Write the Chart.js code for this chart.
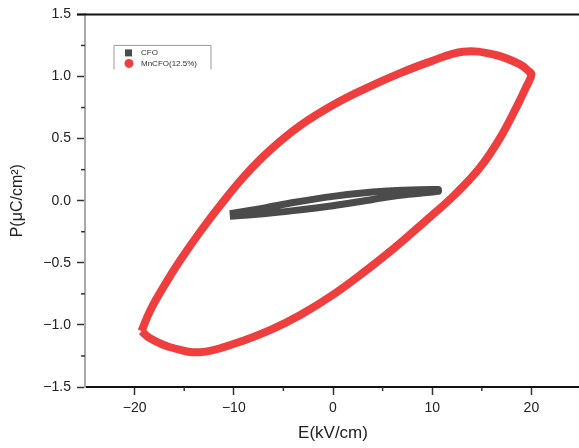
<!DOCTYPE html>
<html>
<head>
<meta charset="utf-8">
<script src="https://cdn.jsdelivr.net/npm/chart.js@4.4.1/dist/chart.umd.min.js"></script>
<style>
  html, body { margin: 0; padding: 0; background: #fff; overflow: hidden; }
  #wrap { width: 600px; height: 448px; }
</style>
</head>
<body>
<div id="wrap"><canvas id="myChart" width="600" height="448"></canvas></div>
<script>
// P-E hysteresis loops
const cfoE = [-10.4, -7, -4, 0, 4, 7, 10.6, 10.6, 7, 4, 0, -4, -7, -10.4];
const cfoP = [-0.105, -0.06, -0.015, 0.035, 0.07, 0.085, 0.09, 0.075, 0.045, 0.01, -0.04, -0.08, -0.105, -0.125];

const mnE = [-19.3, -18.4, -16.9, -15.4, -13.3, -11.1, -8.8, -6.3, -3.3, 0, 3.2, 6.7, 9.8, 13.1, 16.3, 18.8, 19.7, 20.0,
             19.5, 18.6, 16.8, 14.8, 12.3, 9.3, 6.2, 3.2, 0, -3.3, -6.3, -9.9, -13.4, -16.4, -18.4, -19.3];
const mnP = [-1.05, -0.88, -0.67, -0.48, -0.24, -0.01, 0.21, 0.41, 0.605, 0.77, 0.90, 1.025, 1.12, 1.20, 1.175, 1.10, 1.045, 1.015,
             0.92, 0.77, 0.50, 0.265, 0.05, -0.165, -0.38, -0.57, -0.757, -0.92, -1.04, -1.15, -1.22, -1.18, -1.11, -1.05];

const seriesLabels = ['CFO', 'MnCFO(12.5%)'];

const xTickVals = [-20, -10, 0, 10, 20];
const xTickLabels = ['\u221220', '\u221210', '0', '10', '20'];
const xMinor = [-15, -5, 5, 15, 25];
const yTickVals = [-1.5, -1.0, -0.5, 0, 0.5, 1.0, 1.5];
const yTickLabels = ['\u22121.5', '\u22121.0', '\u22120.5', '0.0', '0.5', '1.0', '1.5'];
const yMinor = [-1.25, -0.75, -0.25, 0.25, 0.75, 1.25];

const toPts = (xs, ys) => xs.map((x, i) => ({ x: x, y: ys[i] }));

const FONT = "'Liberation Sans', Arial, sans-serif";

// frame line on top, minor ticks and the boxed legend
const extras = {
  id: 'extras',
  afterDraw(chart) {
    const ctx = chart.ctx;
    const a = chart.chartArea;
    const xs = chart.scales.x, ys = chart.scales.y;
    ctx.save();
    ctx.strokeStyle = '#111';
    ctx.lineWidth = 2;
    ctx.beginPath();
    ctx.moveTo(a.left - 8, a.top);
    ctx.lineTo(a.right, a.top);
    ctx.stroke();

    ctx.strokeStyle = '#333';
    ctx.lineWidth = 1.5;
    xMinor.forEach(v => {
      const px = xs.getPixelForValue(v);
      ctx.beginPath();
      ctx.moveTo(px, a.bottom);
      ctx.lineTo(px, a.bottom + 4);
      ctx.stroke();
    });
    yMinor.forEach(v => {
      const py = ys.getPixelForValue(v);
      ctx.beginPath();
      ctx.moveTo(a.left, py);
      ctx.lineTo(a.left - 4, py);
      ctx.stroke();
    });

    // legend box
    const lx = a.left + 29, ly = a.top + 31, lw = 97, lh = 24;
    ctx.strokeStyle = '#999';
    ctx.lineWidth = 1;
    ctx.beginPath();
    ctx.moveTo(lx, ly + lh);
    ctx.lineTo(lx, ly);
    ctx.lineTo(lx + lw, ly);
    ctx.lineTo(lx + lw, ly + lh);
    ctx.stroke();

    const ds = chart.data.datasets;
    ctx.fillStyle = ds[0].borderColor;
    ctx.fillRect(lx + 11, ly + 4, 7, 7);
    ctx.fillStyle = ds[1].borderColor;
    ctx.beginPath();
    ctx.arc(lx + 15, ly + 18, 4.5, 0, Math.PI * 2);
    ctx.fill();

    ctx.fillStyle = '#333';
    ctx.font = '8px ' + FONT;
    ctx.textBaseline = 'middle';
    ctx.fillText(ds[0].label, lx + 27, ly + 7.5);
    ctx.fillText(ds[1].label, lx + 27, ly + 18.5);
    ctx.restore();
  }
};

new Chart(document.getElementById('myChart'), {
  type: 'scatter',
  data: {
    datasets: [
      {
        label: seriesLabels[0],
        data: toPts(cfoE, cfoP),
        showLine: true,
        borderColor: '#4b4b4b',
        backgroundColor: '#4b4b4b',
        borderWidth: 7,
        borderCapStyle: 'butt',
        borderJoinStyle: 'miter',
        pointRadius: 0,
        tension: 0.3
      },
      {
        label: seriesLabels[1],
        data: toPts(mnE, mnP),
        showLine: true,
        borderColor: '#ee3e3e',
        backgroundColor: '#ee3e3e',
        borderWidth: 8,
        borderJoinStyle: 'round',
        pointRadius: 0,
        tension: 0.4
      }
    ]
  },
  options: {
    responsive: false,
    animation: false,
    layout: { padding: { left: 0, top: 12, right: 19, bottom: 0 } },
    plugins: {
      legend: { display: false },
      tooltip: { enabled: false }
    },
    scales: {
      x: {
        type: 'linear',
        min: -25,
        max: 25,
        afterFit: s => { s.height = 61; },
        afterBuildTicks: s => { s.ticks = xTickVals.map(v => ({ value: v })); },
        grid: { drawOnChartArea: false, drawTicks: true, tickLength: 8, tickColor: '#333', tickWidth: 1.5 },
        border: { display: true, color: '#111', width: 2 },
        ticks: {
          color: '#222',
          font: { family: FONT, size: 14 },
          padding: 5,
          maxRotation: 0,
          callback: (v, i) => xTickLabels[i]
        },
        title: {
          display: true,
          text: 'E(kV/cm)',
          color: '#222',
          font: { family: FONT, size: 17 },
          padding: { top: 0, bottom: 4 }
        }
      },
      y: {
        type: 'linear',
        min: -1.5,
        max: 1.5,
        afterFit: s => { s.width = 85; },
        afterBuildTicks: s => { s.ticks = yTickVals.map(v => ({ value: v })); },
        grid: { drawOnChartArea: false, drawTicks: true, tickLength: 8, tickColor: '#333', tickWidth: 1.5 },
        border: { display: true, color: '#aaa', width: 2 },
        ticks: {
          color: '#222',
          font: { family: FONT, size: 14 },
          padding: 6,
          callback: (v, i) => yTickLabels[i]
        },
        title: {
          display: true,
          text: 'P(\u03bcC/cm\u00b2)',
          color: '#222',
          font: { family: FONT, size: 16 },
          padding: { top: 8, bottom: 0 }
        }
      }
    }
  },
  plugins: [extras]
});
</script>
</body>
</html>
